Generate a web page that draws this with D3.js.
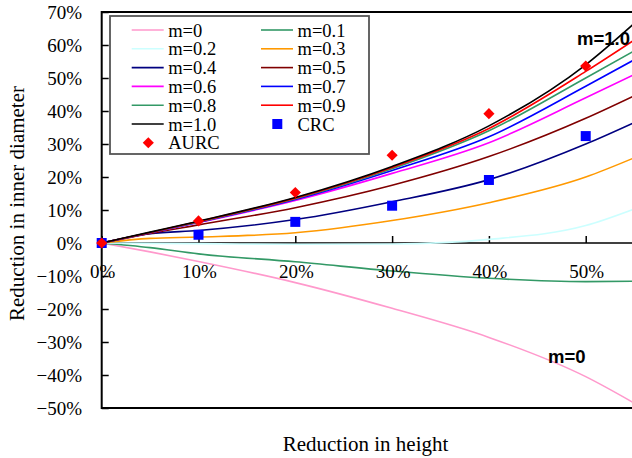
<!DOCTYPE html>
<html lang="en">
<head>
  <meta charset="UTF-8">
  <title>Reduction in inner diameter</title>
  <style>
    body { margin: 0; background: #fff; }
    text { font-family: "Liberation Serif", "Times New Roman", serif; }
  </style>
</head>
<body>
    <script src="https://cdn.jsdelivr.net/npm/d3@7/dist/d3.min.js"></script>
    <script>
      const width = 632
      const height = 458

      // reduction in height (x values shared by every curve)
      const heights = [0, 0.05, 0.1, 0.2, 0.3, 0.4, 0.5, 0.55]

      // model curves, reduction in inner diameter (%)
      const seriesNames = ["m=0", "m=0.1", "m=0.2", "m=0.3", "m=0.4", "m=0.5", "m=0.6", "m=0.7", "m=0.8", "m=0.9", "m=1.0"]
      const m00 = [0, -2.7, -5.6, -12, -19.8, -28.6, -40.5, -48.5]
      const m01 = [0, -1.4, -3.3, -5.7, -8.5, -10.7, -11.7, -11.6]
      const m02 = [0, -0.1, -0.2, -0.4, -0.3, 1.1, 5.3, 10.3]
      const m03 = [0, 1.4, 1.8, 3.1, 6.8, 12.2, 20, 25.8]
      const m04 = [0, 2.8, 3.8, 7.1, 12.5, 19.2, 30, 36.5]
      const m05 = [0, 2.9, 5.5, 10.7, 17.5, 26.2, 37.8, 44.6]
      const m06 = [0, 3.1, 6.2, 12.9, 21.1, 30.4, 44, 51]
      const m07 = [0, 3.1, 6.3, 13.2, 22, 32.2, 47.5, 55.5]
      const m08 = [0, 3.2, 6.4, 13.4, 22.5, 34, 50, 58.2]
      const m09 = [0, 3.2, 6.5, 13.6, 22.9, 34.7, 52, 61.5]
      const m10 = [0, 3.3, 6.6, 13.8, 23.2, 35.5, 54, 66.5]
      const seriesValues = [m00, m01, m02, m03, m04, m05, m06, m07, m08, m09, m10]
      const seriesColors = ["#ff99cc", "#339966", "#ccffff", "#ff9900", "#000080", "#800000", "#ff00ff", "#0000ff", "#339966", "#ff0000", "#000000"]

      // measured points
      const pointHeights = [0, 0.1, 0.2, 0.3, 0.4, 0.5]
      const aurc = [0, 6.7, 15.3, 26.6, 39.2, 53.6]
      const crc = [0, 2.5, 6.4, 11.3, 19.1, 32.4]

      const yTicks = [-0.5, -0.4, -0.3, -0.2, -0.1, 0, 0.1, 0.2, 0.3, 0.4, 0.5, 0.6, 0.7]
      const xTicks = [0, 0.1, 0.2, 0.3, 0.4, 0.5]

      const svg = d3.select("body")
        .append("svg")
        .attr("width", width)
        .attr("height", height)

      const plotLeft = 101.7, plotTop = 12, plotBottom = 408
      const x = d3.scaleLinear().domain([0, 0.56]).range([plotLeft, plotLeft + 542.1])
      const y = d3.scaleLinear().domain([-0.5, 0.7]).range([plotBottom, plotTop])
      const pct = d3.format(".0%")

      svg.append("clipPath").attr("id", "plot")
        .append("rect").attr("x", plotLeft).attr("y", plotTop).attr("width", width - plotLeft).attr("height", plotBottom - plotTop)

      // frame
      svg.append("rect")
        .attr("x", plotLeft).attr("y", plotTop)
        .attr("width", 560).attr("height", plotBottom - plotTop)
        .attr("fill", "none").attr("stroke", "#000").attr("stroke-width", 2)

      // y axis ticks (inside) + labels
      const yAxis = svg.append("g").attr("transform", "translate(" + plotLeft + ",0)")
        .call(d3.axisRight(y).tickValues(yTicks).tickSize(7).tickFormat(""))
      yAxis.select(".domain").remove()
      yAxis.selectAll("line").attr("stroke-width", 1.5)
      svg.append("g").selectAll("text")
        .data(yTicks)
        .enter().append("text")
        .attr("x", 82)
        .attr("y", d => y(d) + 6.5)
        .attr("text-anchor", "end")
        .attr("font-size", 19)
        .text(d => pct(d))

      // x axis on the zero line, ticks pointing up
      const xAxis = svg.append("g").attr("transform", "translate(0," + y(0) + ")")
        .call(d3.axisTop(x).tickValues(xTicks).tickSize(7).tickFormat(""))
      xAxis.select(".domain").remove()
      xAxis.selectAll("line").attr("stroke-width", 1.5)
      svg.append("line")
        .attr("x1", plotLeft).attr("x2", width)
        .attr("y1", y(0)).attr("y2", y(0))
        .attr("stroke", "#000").attr("stroke-width", 1.5)

      // curves
      const line = d3.line()
        .x((d, i) => x(heights[i]))
        .y(d => y(d / 100))
        .curve(d3.curveMonotoneX)

      svg.append("g").attr("clip-path", "url(#plot)")
        .selectAll("path")
        .data(seriesValues)
        .enter().append("path")
        .attr("d", line)
        .attr("fill", "none")
        .attr("stroke", (d, i) => seriesColors[i])
        .attr("stroke-width", 1.6)

      // x tick labels (drawn over the curves)
      svg.append("g").selectAll("text")
        .data(xTicks)
        .enter().append("text")
        .attr("x", d => x(d) + 1)
        .attr("y", y(0) + 35)
        .attr("text-anchor", "middle")
        .attr("font-size", 19)
        .text(d => pct(d))

      // markers
      const square = d3.symbol().type(d3.symbolSquare).size(100)
      const diamond = d3.symbol().type(d3.symbolSquare).size(62)
      svg.append("g").selectAll("path")
        .data(crc)
        .enter().append("path")
        .attr("d", square)
        .attr("transform", (d, i) => "translate(" + x(pointHeights[i]) + "," + y(d / 100) + ")")
        .attr("fill", "#0000ff")
      svg.append("g").selectAll("path")
        .data(aurc)
        .enter().append("path")
        .attr("d", diamond)
        .attr("transform", (d, i) => "translate(" + x(pointHeights[i]) + "," + y(d / 100) + ") rotate(45)")
        .attr("fill", "#ff0000")

      // curve labels
      svg.append("text").attr("x", 577).attr("y", 45)
        .style("font-family", "'Liberation Sans', Arial, sans-serif")
        .attr("font-weight", "bold").attr("font-size", 18.5).text("m=1.0")
      svg.append("text").attr("x", 548).attr("y", 363)
        .style("font-family", "'Liberation Sans', Arial, sans-serif")
        .attr("font-weight", "bold").attr("font-size", 18.5).text("m=0")

      // legend
      const legend = svg.append("g")
      legend.append("rect")
        .attr("x", 110).attr("y", 16)
        .attr("width", 259).attr("height", 138)
        .attr("fill", "#fff").attr("stroke", "#555").attr("stroke-width", 1.8)

      const rowY = i => 30 + i * 18.8
      seriesNames.forEach((name, i) => {
        const col = i % 2, row = Math.floor(i / 2)
        const lx = col === 0 ? 131.7 : 261
        legend.append("line")
          .attr("x1", lx).attr("x2", lx + 32)
          .attr("y1", rowY(row)).attr("y2", rowY(row))
          .attr("stroke", seriesColors[i]).attr("stroke-width", 1.6)
        legend.append("text")
          .attr("x", lx + 36.5).attr("y", rowY(row) + 6.5)
          .attr("font-size", 18.5)
          .text(name)
      })
      legend.append("path").attr("d", diamond)
        .attr("transform", "translate(148.3," + rowY(6) + ") rotate(45)")
        .attr("fill", "#ff0000")
      legend.append("text").attr("x", 168.2).attr("y", rowY(6) + 6.5)
        .attr("font-size", 18.5).text("AURC")
      legend.append("path").attr("d", square)
        .attr("transform", "translate(277.3," + rowY(5) + ")")
        .attr("fill", "#0000ff")
      legend.append("text").attr("x", 297.5).attr("y", rowY(5) + 6.5)
        .attr("font-size", 18.5).text("CRC")

      // axis titles
      svg.append("text")
        .attr("x", 365.5).attr("y", 451)
        .attr("text-anchor", "middle")
        .attr("font-size", 21)
        .text("Reduction in height")
      svg.append("text")
        .attr("transform", "translate(24,203.5) rotate(-90)")
        .attr("text-anchor", "middle")
        .attr("font-size", 21)
        .text("Reduction in inner diameter")
    </script>
</body>
</html>
